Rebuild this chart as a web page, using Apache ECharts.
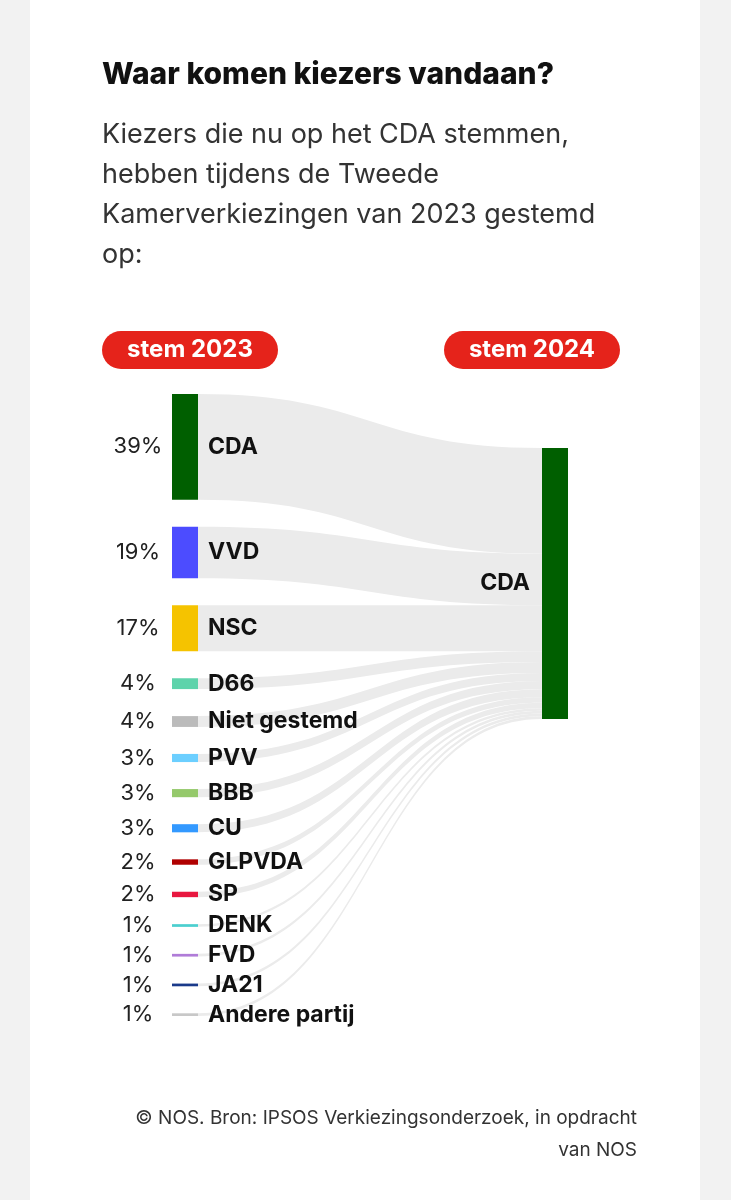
<!DOCTYPE html>
<html>
<head>
<meta charset="utf-8">
<script src="https://cdn.jsdelivr.net/npm/echarts@6/dist/echarts.min.js"></script>
<style>
  html, body { margin: 0; padding: 0; background: #f2f2f2; }
  #card { position: absolute; left: 30px; top: 0; width: 670px; height: 1200px; background: #fff; }
  #chart { width: 670px; height: 1200px; }
</style>
</head>
<body>
<div id="card"><div id="chart"></div></div>
<script>
var parties = ['CDA', 'VVD', 'NSC', 'D66', 'Niet gestemd', 'PVV', 'BBB', 'CU', 'GLPVDA', 'SP', 'DENK', 'FVD', 'JA21', 'Andere partij'];
var shares = [39, 19, 17, 4, 4, 3, 3, 3, 2, 2, 1, 1, 1, 1];
var colors = ['#005f00', '#4c4cff', '#f5c300', '#5ed3ab', '#bbbbbb', '#6ccfff', '#95c96b', '#3399ff', '#b00000', '#e8173f', '#4bcfcf', '#b07cd8', '#1a3a8a', '#c8c8c8'];
var target = 'CDA ';

var chart = echarts.init(document.getElementById('chart'));

var nodes = parties.map(function (p, i) {
  return {
    name: p,
    itemStyle: { color: colors[i] },
    label: {
      position: 'right',
      offset: [-96, 0],
      formatter: '{p|' + shares[i] + '%}{s|}{n|' + p + '}',
      rich: {
        p: { width: 62, align: 'right', fontSize: 22, color: '#222', fontFamily: 'Inter' },
        s: { width: 39 },
        n: { fontSize: 23, fontWeight: 'bold', color: '#111', fontFamily: 'Inter' }
      }
    }
  };
});
nodes.push({
  name: target,
  localY: 54 / 622,
  itemStyle: { color: '#005f00' },
  label: { position: 'left', distance: 12, fontSize: 23, fontWeight: 'bold', color: '#111', fontFamily: 'Inter', formatter: 'CDA' }
});

var links = parties.map(function (p, i) {
  return { source: p, target: target, value: shares[i] };
});

function pill(cx, cy, text) {
  return [
    { type: 'rect', shape: { x: cx - 88, y: cy - 19, width: 176, height: 38, r: 19 }, style: { fill: '#e5231b' } },
    { type: 'text', x: cx, y: cy, style: { text: text, fill: '#fff', font: 'bold 24px Inter', align: 'center', verticalAlign: 'middle' } }
  ];
}

chart.setOption({
  animation: false,
  title: [
    { text: 'Waar komen kiezers vandaan?', left: 67, top: 55, textStyle: { fontSize: 30, fontWeight: 800, color: '#111', fontFamily: 'Inter' } },
    { text: 'Kiezers die nu op het CDA stemmen,\nhebben tijdens de Tweede\nKamerverkiezingen van 2023 gestemd\nop:', left: 67, top: 110,
      textStyle: { fontSize: 27, fontWeight: 'normal', color: '#333', lineHeight: 40, fontFamily: 'Inter' } }
  ],
  graphic: pill(160, 350, 'stem 2023').concat(pill(502, 350, 'stem 2024')).concat([
    { type: 'text', x: 607, y: 1102, style: { text: '© NOS. Bron: IPSOS Verkiezingsonderzoek, in opdracht\nvan NOS', fill: '#333', font: '19px Inter', align: 'right', lineHeight: 32 } }
  ]),
  series: [{
    type: 'sankey',
    left: 142,
    top: 394,
    width: 396,
    height: 622,
    nodeWidth: 26,
    nodeGap: 27,
    layoutIterations: 0,
    draggable: false,
    emphasis: { disabled: true },
    lineStyle: { color: '#ebebeb', opacity: 1, curveness: 0.5 },
    data: nodes,
    links: links
  }]
});
</script>
</body>
</html>
